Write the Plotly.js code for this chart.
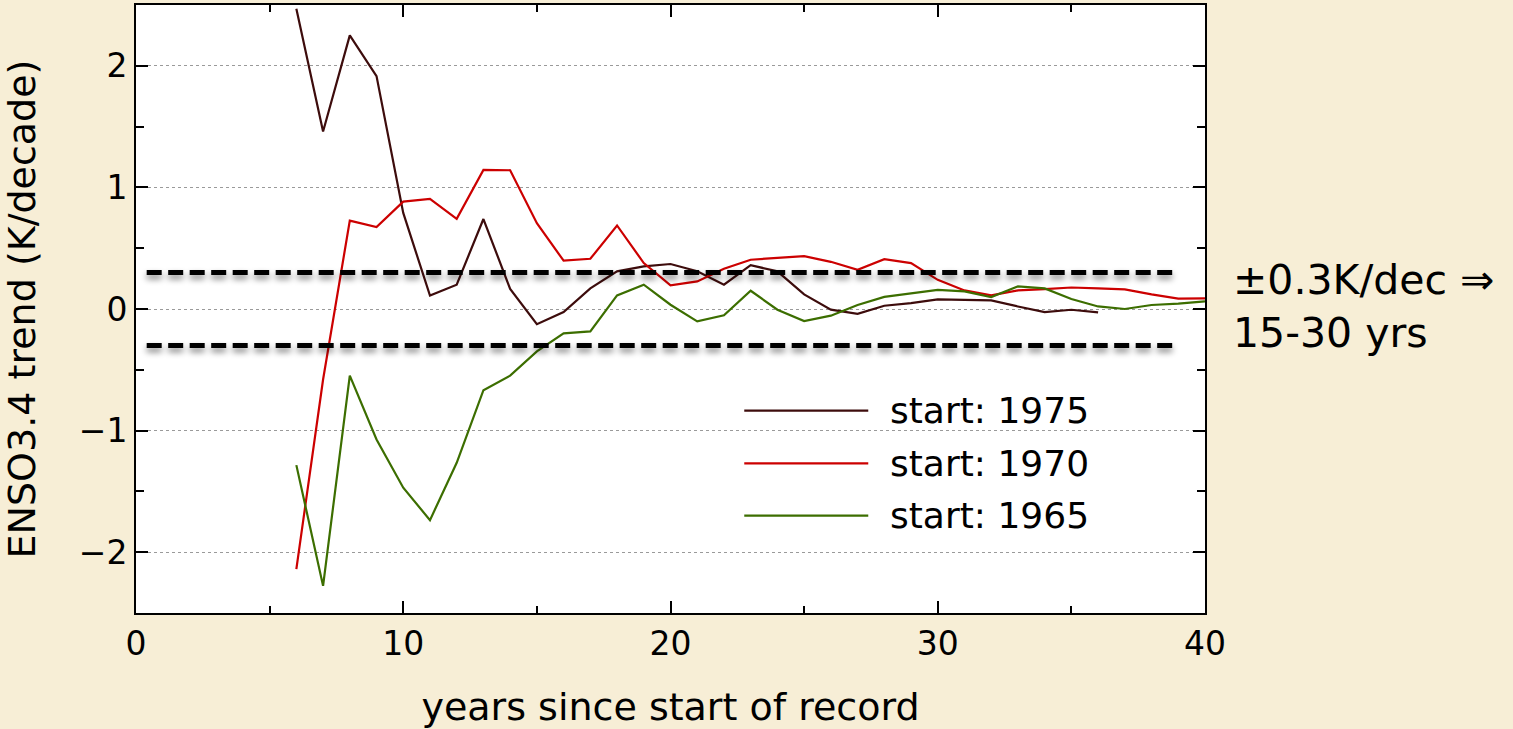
<!DOCTYPE html>
<html>
<head>
<meta charset="utf-8">
<script src="https://cdn.plot.ly/plotly-3.0.1.min.js"></script>
<style>
  html, body { margin: 0; padding: 0; background: #f7eed6; }
  #chart { width: 1513px; height: 729px; }
</style>
</head>
<body>
<div id="chart"></div>
<script>
// ---- data ----
const years75 = [6,7,8,9,10,11,12,13,14,15,16,17,18,19,20,21,22,23,24,25,26,27,28,29,30,31,32,33,34,35,36];
const trend75 = [2.47,1.46,2.25,1.915,0.79,0.11,0.2,0.74,0.165,-0.125,-0.025,0.17,0.31,0.35,0.37,0.31,0.2,0.36,0.31,0.12,-0.005,-0.04,0.027,0.049,0.079,0.076,0.071,0.021,-0.025,-0.006,-0.028];

const years70 = [6,7,8,9,10,11,12,13,14,15,16,17,18,19,20,21,22,23,24,25,26,27,28,29,30,31,32,33,34,35,36,37,38,39,40];
const trend70 = [-2.14,-0.58,0.727,0.673,0.883,0.906,0.741,1.144,1.141,0.706,0.397,0.413,0.687,0.378,0.194,0.227,0.331,0.405,0.421,0.435,0.388,0.323,0.41,0.378,0.24,0.153,0.112,0.153,0.164,0.177,0.169,0.161,0.12,0.085,0.087];

const years65 = [6,7,8,9,10,11,12,13,14,15,16,17,18,19,20,21,22,23,24,25,26,27,28,29,30,31,32,33,34,35,36,37,38,39,40];
const trend65 = [-1.284,-2.277,-0.548,-1.073,-1.47,-1.736,-1.265,-0.668,-0.548,-0.348,-0.2,-0.184,0.112,0.2,0.035,-0.102,-0.052,0.15,-0.006,-0.099,-0.055,0.033,0.1,0.131,0.158,0.145,0.098,0.186,0.169,0.082,0.021,0.0,0.033,0.044,0.062];

const seriesNames = ['start: 1975', 'start: 1970', 'start: 1965'];
const thresholdLevel = 0.3;
const thresholdSpan = [0.4, 38.9];
const noteText = '±0.3K/dec ⇒<br>15-30 yrs';

// ---- styling ----
const FONT = 'DejaVu Sans, Liberation Sans, Arial, sans-serif';
const colors = ['#3d0c0c', '#cc0000', '#3c6e00'];
const seriesX = [years75, years70, years65];
const seriesY = [trend75, trend70, trend65];

const traces = seriesNames.map((name, i) => ({
  x: seriesX[i], y: seriesY[i], name: name, type: 'scatter', mode: 'lines',
  line: { color: colors[i], width: 2.2 }, showlegend: false, hoverinfo: 'x+y+name'
}));

[thresholdLevel, -thresholdLevel].forEach(lv => {
  traces.push({
    x: thresholdSpan, y: [lv, lv], type: 'scatter', mode: 'lines',
    line: { color: '#000', width: 5, dash: '15px,6.5px' },
    showlegend: false, hoverinfo: 'skip', name: '±0.3'
  });
});

// custom legend (long line samples as in the reference)
const legendY = [0.333, 0.246, 0.160];
const shapes = seriesNames.map((n, i) => ({
  type: 'line', xref: 'paper', yref: 'paper',
  x0: 0.569, x1: 0.685, y0: legendY[i], y1: legendY[i],
  line: { color: colors[i], width: 2.2 }
}));
const annotations = seriesNames.map((n, i) => ({
  xref: 'paper', yref: 'paper', x: 0.703, y: legendY[i],
  xanchor: 'left', yanchor: 'middle', text: n, showarrow: false,
  font: { family: FONT, size: 36, color: '#000' }
}));
annotations.push({
  xref: 'paper', yref: 'paper', x: 1.024, y: 0.504,
  xanchor: 'left', yanchor: 'middle', align: 'left', text: noteText, showarrow: false,
  font: { family: FONT, size: 41, color: '#000' }
});

const axisCommon = {
  showline: true, linecolor: '#000', linewidth: 2, mirror: 'allticks',
  ticks: 'inside', ticklen: 12, tickwidth: 2, tickcolor: '#000',
  tickfont: { family: FONT, size: 33, color: '#000' },
  zeroline: false, fixedrange: true
};

const layout = {
  width: 1513, height: 729,
  margin: { l: 136, r: 308, t: 5, b: 116, pad: 0 },
  paper_bgcolor: '#f7eed6', plot_bgcolor: '#ffffff',
  font: { family: FONT, color: '#000' },
  xaxis: Object.assign({}, axisCommon, {
    range: [0, 40], dtick: 10, tick0: 0, showgrid: false,
    minor: { dtick: 5, ticks: 'inside', ticklen: 7, tickwidth: 2, tickcolor: '#000', showgrid: false },
    title: { text: 'years since start of record', font: { family: FONT, size: 38, color: '#000' }, standoff: 34 }
  }),
  yaxis: Object.assign({}, axisCommon, {
    range: [-2.5, 2.5], dtick: 1, tick0: 0,
    showgrid: true, gridcolor: '#9a9a9a', gridwidth: 1, griddash: 'dot',
    minor: { dtick: 0.5, ticks: 'inside', ticklen: 8, tickwidth: 2, tickcolor: '#000', showgrid: false },
    title: { text: 'ENSO3.4 trend (K/decade)', font: { family: FONT, size: 38, color: '#000' }, standoff: 40 }
  }),
  shapes: shapes,
  annotations: annotations,
  showlegend: false
};

Plotly.newPlot('chart', traces, layout, { displayModeBar: false, staticPlot: true }).then(gd => {
  // soft drop shadow under the dashed threshold lines
  const svgNS = 'http://www.w3.org/2000/svg';
  const svg = gd.querySelector('svg.main-svg');
  let defs = svg.querySelector('defs');
  if (!defs) { defs = document.createElementNS(svgNS, 'defs'); svg.insertBefore(defs, svg.firstChild); }
  const f = document.createElementNS(svgNS, 'filter');
  f.setAttribute('id', 'dashShadow');
  f.setAttribute('filterUnits', 'userSpaceOnUse');
  f.setAttribute('x', '-300'); f.setAttribute('y', '-300');
  f.setAttribute('width', '2200'); f.setAttribute('height', '1400');
  f.innerHTML = '<feGaussianBlur in="SourceAlpha" stdDeviation="3" result="b"/>' +
    '<feOffset in="b" dy="4" result="o"/>' +
    '<feComponentTransfer in="o" result="s"><feFuncA type="linear" slope="0.5"/></feComponentTransfer>' +
    '<feMerge><feMergeNode in="s"/><feMergeNode in="SourceGraphic"/></feMerge>';
  defs.appendChild(f);
  const tr = gd.querySelectorAll('.scatterlayer .trace');
  [3, 4].forEach(k => {
    if (tr[k]) tr[k].querySelectorAll('path.js-line').forEach(p => p.setAttribute('filter', 'url(#dashShadow)'));
  });
});
</script>
</body>
</html>
